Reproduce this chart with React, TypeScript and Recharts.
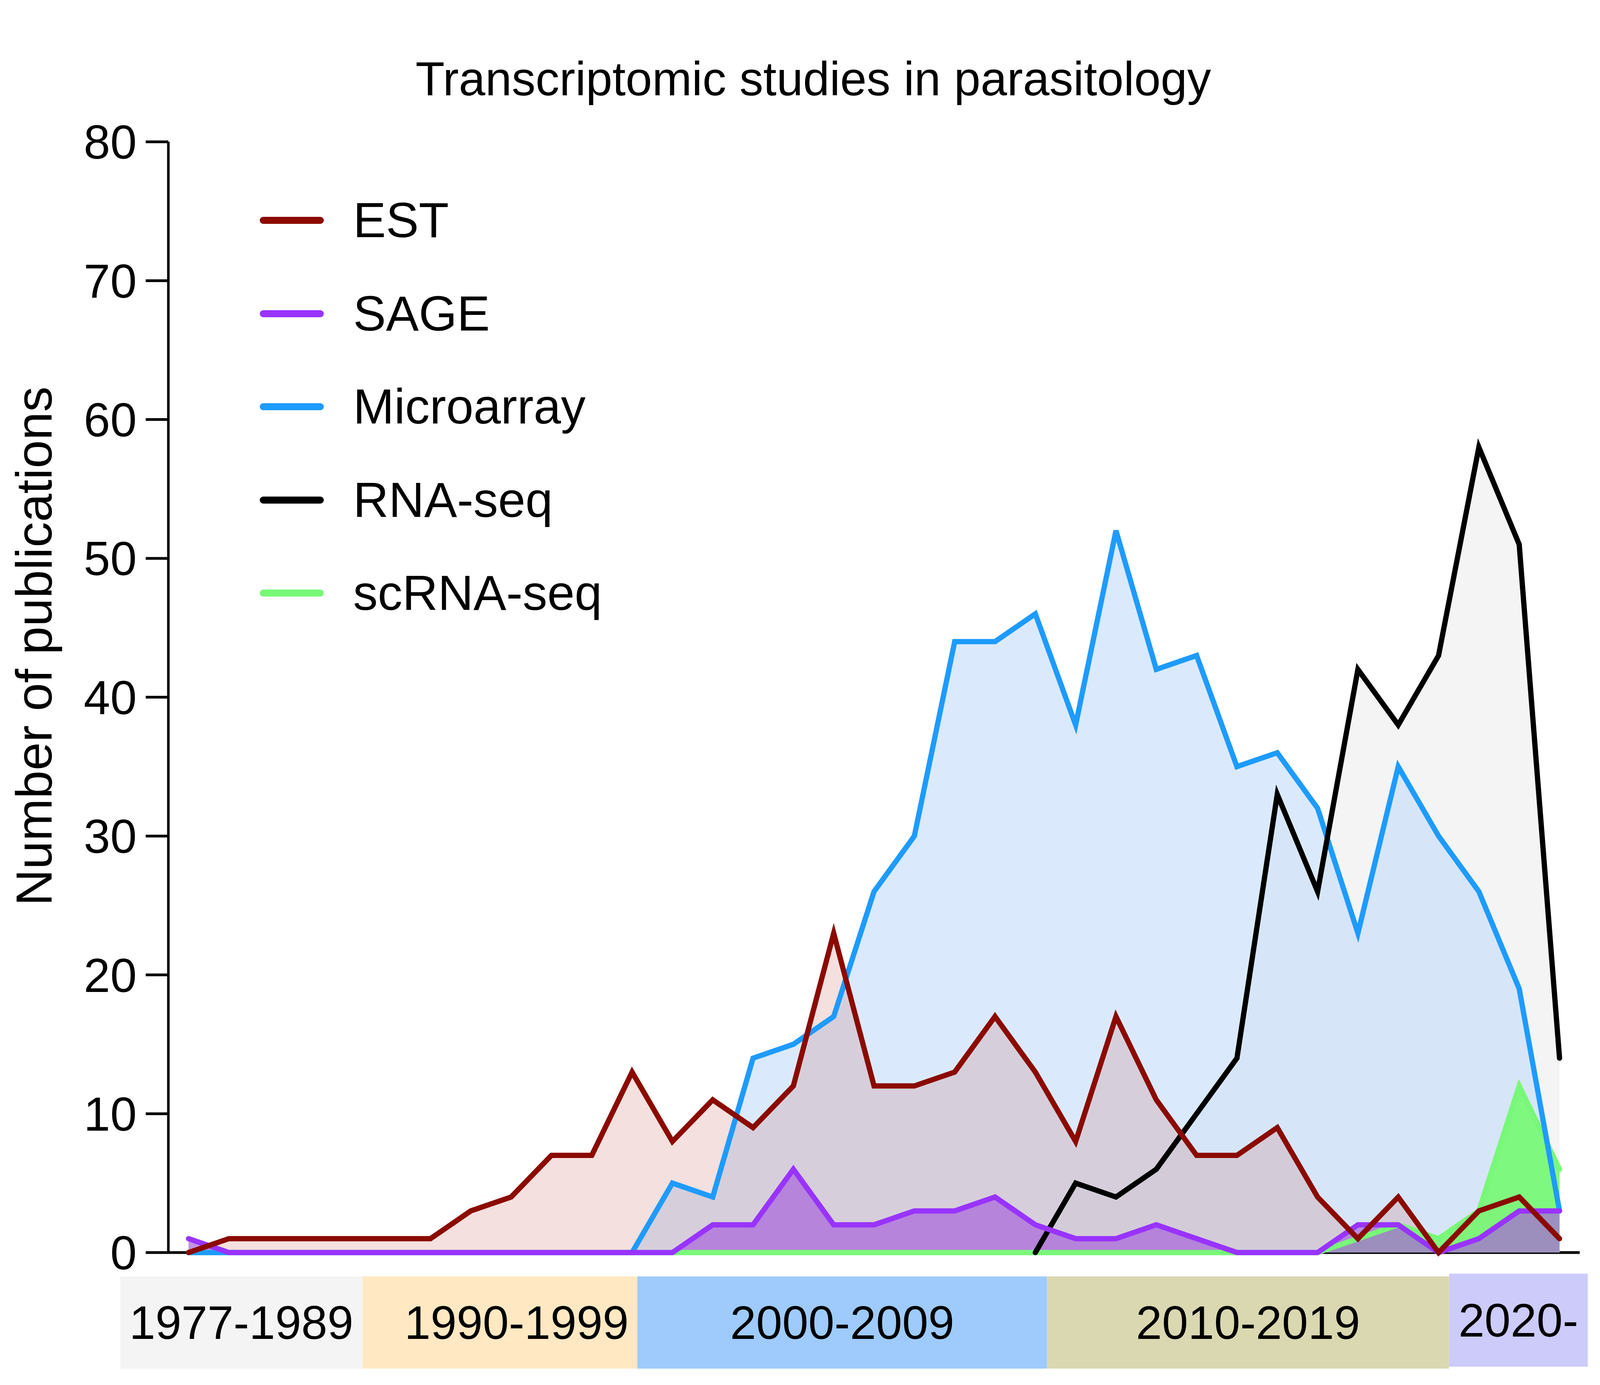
import React from 'react';
import { ComposedChart, Area, Line, XAxis, YAxis, ReferenceArea, Legend } from 'recharts';

// one point per publication year bin, left to right (x axis has no tick labels)
const points = [
  0, 1, 2, 3, 4, 5, 6, 7, 8, 9, 10, 11, 12, 13, 14, 15, 16, 17,
  18, 19, 20, 21, 22, 23, 24, 25, 26, 27, 28, 29, 30, 31, 32, 33, 34,
];

const est = [0, 1, 1, 1, 1, 1, 1, 3, 4, 7, 7, 13, 8, 11, 9, 12, 23, 12, 12, 13, 17, 13, 8, 17, 11, 7, 7, 9, 4, 1, 4, 0, 3, 4, 1];
const sage = [1, 0, 0, 0, 0, 0, 0, 0, 0, 0, 0, 0, 0, 2, 2, 6, 2, 2, 3, 3, 4, 2, 1, 1, 2, 1, 0, 0, 0, 2, 2, 0, 1, 3, 3];
const microarray = [0, 0, 0, 0, 0, 0, 0, 0, 0, 0, 0, 0, 5, 4, 14, 15, 17, 26, 30, 44, 44, 46, 38, 52, 42, 43, 35, 36, 32, 23, 35, 30, 26, 19, 3];
const rnaSeq = [
  null, null, null, null, null, null, null, null, null, null, null, null, null, null, null, null, null, null, null, null, null,
  0, 5, 4, 6, 10, 14, 33, 26, 42, 38, 43, 58, 51, 14,
];
const scRnaSeq = [0, 0, 0, 0, 0, 0, 0, 0, 0, 0, 0, 0, 0, 0, 0, 0, 0, 0, 0, 0, 0, 0, 0, 0, 0, 0, 0, 0, 0, 1, 2, 1, 3, 12, 6];

const yTicks = [0, 10, 20, 30, 40, 50, 60, 70, 80];

// decades shown as coloured boxes under the x axis (in x index units)
const periodLabels = ['1977-1989', '1990-1999', '2000-2009', '2010-2019', '2020-'];
const periodStart = [-1.69, 4.31, 11.13, 21.29, 31.26];
const periodEnd = [4.31, 11.13, 21.29, 31.26, 34.7];

const data = points.map((x, i) => ({
  x,
  est: est[i],
  sage: sage[i],
  microarray: microarray[i],
  rnaSeq: rnaSeq[i],
  scRnaSeq: scRnaSeq[i],
}));

const FONT = '"Liberation Sans", Arial, Helvetica, sans-serif';

const series = [
  { key: 'est', name: 'EST', color: '#8B0A00' },
  { key: 'sage', name: 'SAGE', color: '#9933FF' },
  { key: 'microarray', name: 'Microarray', color: '#1E9BFF' },
  { key: 'rnaSeq', name: 'RNA-seq', color: '#000000' },
  { key: 'scRnaSeq', name: 'scRNA-seq', color: '#78F878' },
];

// fills back to front, then lines back to front
const fills = [
  { key: 'rnaSeq', fill: '#F4F4F4', opacity: 1 },
  { key: 'microarray', fill: '#C1DCFA', opacity: 0.6 },
  { key: 'est', fill: '#C8645A', opacity: 0.2 },
  { key: 'scRnaSeq', fill: '#70FA6A', opacity: 0.85 },
  { key: 'sage', fill: '#A864DC', opacity: 0.7 },
];
const lineOrder = ['scRnaSeq', 'microarray', 'rnaSeq', 'sage', 'est'];

const periodColors = ['#F4F4F4', '#FFE8C2', '#9ECBFB', '#DAD8B0', '#CCCBFA'];
const labelShift = [0, 43, 0, 0, 0];

const colorOf = (key: string) => series.find((s) => s.key === key)!.color;

const LegendBox = () => (
  <div>
    {series.map((s) => (
      <div key={s.key} style={{ display: 'flex', alignItems: 'center', height: 238.5 }}>
        <div style={{ width: 164, height: 18, borderRadius: 9, background: s.color, flex: 'none' }} />
        <span style={{ marginLeft: 75, fontSize: 126, lineHeight: 1, fontFamily: FONT, color: '#000', whiteSpace: 'nowrap' }}>
          {s.name}
        </span>
      </div>
    ))}
  </div>
);

const periodLabel = (text: string, dx: number) => (props: any) => {
  const { x, y, width, height } = props.viewBox;
  return (
    <text
      x={x + width / 2 + dx}
      y={y + height / 2}
      textAnchor="middle"
      dominantBaseline="central"
      fontSize={120}
      fontFamily={FONT}
      fill="#000"
    >
      {text}
    </text>
  );
};

const yLabel = () => (
  <text
    x={124}
    y={1646}
    transform="rotate(-90 124 1646)"
    textAnchor="middle"
    fontSize={130}
    fontFamily={FONT}
    fill="#000"
  >
    Number of publications
  </text>
);

export default function App() {
  return (
    <div style={{ position: 'relative', width: 4080, height: 3520, fontFamily: FONT }}>
      <div
        style={{
          position: 'absolute',
          left: 68,
          top: 133,
          width: 4012,
          textAlign: 'center',
          fontSize: 122,
          lineHeight: '122px',
          color: '#000',
          zIndex: 1,
        }}
      >
        Transcriptomic studies in parasitology
      </div>
      <div style={{ position: 'absolute', left: 0, top: 0 }}>
        <ComposedChart
          width={4080}
          height={3520}
          data={data}
          margin={{ top: 355, right: 44, left: 0, bottom: 320 }}
        >
          <XAxis
            type="number"
            dataKey="x"
            domain={[-0.5, 34.5]}
            height={2}
            tick={false}
            tickLine={false}
            axisLine={{ stroke: '#000', strokeWidth: 7 }}
            zIndex={50}
          />
          <YAxis
            type="number"
            domain={[0, 80]}
            ticks={yTicks}
            width={423}
            interval={0}
            tickSize={58}
            tickMargin={23}
            axisLine={{ stroke: '#000', strokeWidth: 6.5 }}
            tickLine={{ stroke: '#000', strokeWidth: 7 }}
            tick={{ fontSize: 122, fill: '#000', fontFamily: FONT }}
            label={yLabel}
          />
          {periodLabels.map((label, i) => (
            <ReferenceArea
              key={label}
              x1={periodStart[i]}
              x2={periodEnd[i]}
              y1={i === 4 ? -1.52 : -1.72}
              y2={i === 4 ? -8.22 : -8.36}
              ifOverflow="visible"
              fill={periodColors[i]}
              fillOpacity={1}
              stroke="none"
              label={periodLabel(label, labelShift[i])}
            />
          ))}
          {fills.map((f) => (
            <Area
              key={'fill-' + f.key}
              type="linear"
              dataKey={f.key}
              stroke="none"
              fill={f.fill}
              fillOpacity={f.opacity}
              isAnimationActive={false}
              legendType="none"
              activeDot={false}
            />
          ))}
          {lineOrder.map((key) => (
            <Line
              key={'line-' + key}
              type="linear"
              dataKey={key}
              stroke={colorOf(key)}
              strokeWidth={13.5}
              strokeLinejoin="miter"
              strokeLinecap="round"
              dot={false}
              activeDot={false}
              isAnimationActive={false}
            />
          ))}
          <Legend
            layout="vertical"
            align="center"
            verticalAlign="middle"
            content={LegendBox}
            wrapperStyle={{ left: 657, top: 437, width: 1400, height: 1200 }}
          />
        </ComposedChart>
      </div>
    </div>
  );
}
